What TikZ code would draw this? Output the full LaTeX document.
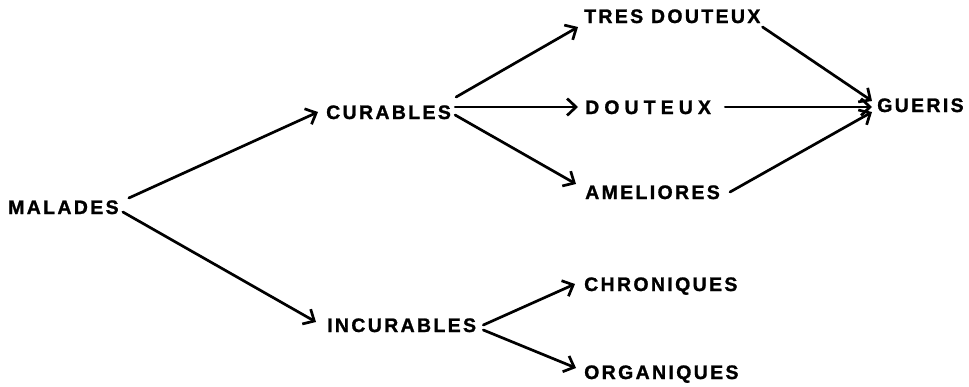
\documentclass[tikz,border=0pt]{standalone}
\usepackage{fontspec}
\setmainfont{Liberation Sans}
\newfontfamily\labelfont[LetterSpace=12,FakeBold=1.2]{Liberation Sans Bold}
\newfontfamily\widefont[LetterSpace=26,FakeBold=1.2]{Liberation Sans Bold}
\usetikzlibrary{arrows.meta,calc}
\tikzset{
  lbl/.style={anchor=west, inner sep=0pt, text height=14pt, text depth=0pt,
              font=\labelfont\fontsize{19.5}{19.5}\selectfont},
  widelbl/.style={lbl, font=\widefont\fontsize{19.5}{19.5}\selectfont},
  flow/.style={line width=2.7pt, line cap=round,
               -{Straight Barb[length=9pt,width=17pt,line width=2.7pt]}},
}
\begin{document}
\begin{tikzpicture}[x=1pt,y=-1pt]
  \useasboundingbox (0,0) rectangle (969,386);
  % labels
  \node[lbl] (mal)  at (8,207)   {MALADES};
  \node[lbl] (cur)  at (326,112) {CURABLES};
  \node[lbl] (inc)  at (327,325) {INCURABLES};
  \node[lbl] (tres) at (584,16)  {TRES DOUTEUX};
  \node[widelbl] (dou) at (585,107) {DOUTEUX};
  \node[lbl] (ame)  at (585,192) {AMELIORES};
  \node[lbl] (gue)  at (877,105) {GUERIS};
  \node[lbl] (chr)  at (584,284) {CHRONIQUES};
  \node[lbl] (org)  at (584,372) {ORGANIQUES};
  % first split
  \draw[flow] ($(mal.east)+(10,-9)$) -- ($(cur.west)+(-8,0)$);
  \draw[flow] ($(mal.east)+(4,5)$)   -- ($(inc.west)+(-11,-3)$);
  % curable branches
  \draw[flow] ($(cur.east)+(5,-15)$) -- ($(tres.west)+(-6,11)$);
  \draw[flow] ($(cur.east)+(4,-5)$)  -- ($(dou.west)+(-7,0)$);
  \draw[flow] ($(cur.east)+(4,3)$)   -- ($(ame.west)+(-9,-8)$);
  % towards recovery
  \draw[flow] ($(tres.east)+(2,11)$) -- ($(gue.west)+(-5,-4)$);
  \draw[flow] ($(dou.east)+(14,0)$)  -- ($(gue.west)+(-5,2)$);
  \draw[flow] ($(ame.east)+(10,0)$)  -- ($(gue.west)+(-5,7)$);
  % incurable branches
  \draw[flow] ($(inc.east)+(7,0)$)   -- ($(chr.west)+(-9,0)$);
  \draw[flow] ($(inc.east)+(7,5)$)   -- ($(org.west)+(-8,-4)$);
\end{tikzpicture}
\end{document}
